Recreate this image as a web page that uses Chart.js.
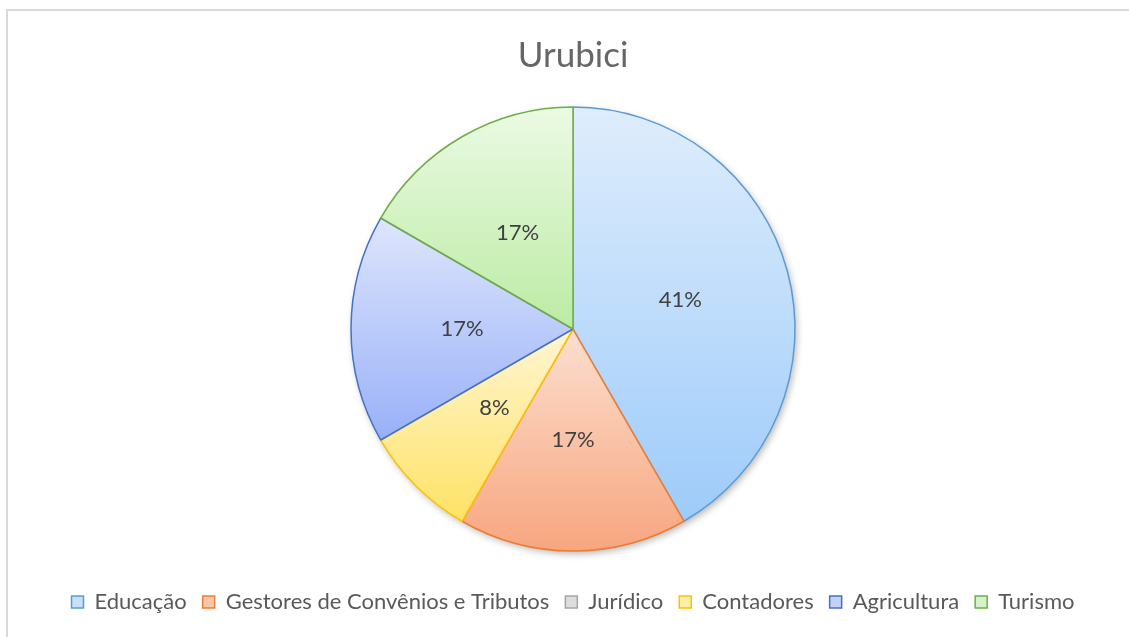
<!DOCTYPE html>
<html><head><meta charset="utf-8">
<script src="https://cdn.jsdelivr.net/npm/chart.js@4.4.1/dist/chart.umd.min.js"></script>
<style>
html,body{margin:0;padding:0;background:#fff;overflow:hidden;width:1129px;height:637px;}
#frame{position:absolute;left:6px;top:9px;border-left:2px solid #d9d9d9;border-top:2px solid #d9d9d9;width:1130px;height:626px;}
canvas{display:block}
</style></head><body>
<div id="frame"><canvas id="c" width="1130" height="626"></canvas></div>
<script>
const chartTitle = 'Urubici';
const categories = ['Educação','Gestores de Convênios e Tributos','Jurídico','Contadores','Agricultura','Turismo'];
const values = [5, 2, 0, 1, 2, 2];
const valueLabels = ['41%','17%','0%','8%','17%','17%'];
const borderColors = ['#5B9BD5','#ED7D31','#A5A5A5','#FFC000','#4472C4','#70AD47'];
const gradTop = ['#DFEDFC','#FCDFCF','#EDEDED','#FFF6D2','#DEE6FC','#EBFAE4'];
const gradBottom = ['#9DCBFA','#F7A67F','#C8C8C8','#FFE266','#98B0F8','#BCEBA4'];
const legendFill = ['#C6E0FB','#FAC6AA','#DCDCDC','#FFEFA6','#C2D0FA','#D6F3C8'];

const pieDecor = {
  id: 'pieDecor',
  beforeDatasetsDraw(chart) {
    const ctx = chart.ctx;
    const meta = chart.getDatasetMeta(0);
    if (!meta.data.length) return;
    const a0 = meta.data[0];
    ctx.save();
    ctx.beginPath();
    ctx.arc(a0.x, a0.y, a0.outerRadius, 0, Math.PI * 2);
    ctx.shadowColor = 'rgba(0,0,0,0.28)';
    ctx.shadowBlur = 7;
    ctx.shadowOffsetX = 2;
    ctx.shadowOffsetY = 3;
    ctx.fillStyle = '#ffffff';
    ctx.fill();
    ctx.restore();
    meta.data.forEach((arc, i) => {
      const R = arc.outerRadius, cx = arc.x, cy = arc.y;
      const s = arc.startAngle, e = arc.endAngle;
      let ys = [cy, cy + R * Math.sin(s), cy + R * Math.sin(e)];
      [-Math.PI / 2, Math.PI / 2, 3 * Math.PI / 2].forEach(k => { if (k >= s && k <= e) ys.push(cy + R * Math.sin(k)); });
      const minY = Math.min(...ys), maxY = Math.max(...ys);
      const g = ctx.createLinearGradient(0, minY, 0, Math.max(maxY, minY + 1));
      g.addColorStop(0, gradTop[i]);
      g.addColorStop(1, gradBottom[i]);
      arc.options = Object.assign({}, arc.options, { backgroundColor: g });
    });
  },
  afterDatasetsDraw(chart) {
    const ctx = chart.ctx;
    const meta = chart.getDatasetMeta(0);
    ctx.save();
    ctx.font = '22px Lato';
    ctx.fillStyle = '#404040';
    ctx.textAlign = 'center';
    ctx.textBaseline = 'middle';
    meta.data.forEach((arc, i) => {
      if (!values[i]) return;
      const mid = (arc.startAngle + arc.endAngle) / 2;
      const r = arc.outerRadius * 0.5;
      ctx.fillText(valueLabels[i], arc.x + r * Math.cos(mid), arc.y + r * Math.sin(mid));
    });
    ctx.restore();
  }
};

new Chart(document.getElementById('c'), {
  type: 'pie',
  data: {
    labels: categories,
    datasets: [{
      data: values,
      backgroundColor: legendFill,
      borderColor: borderColors,
      borderWidth: ctx => (values[ctx.dataIndex] ? 1.5 : 0),
      radius: 222
    }]
  },
  options: {
    responsive: false,
    animation: false,
    devicePixelRatio: 1,
    layout: { padding: { left: 0, right: 0, top: 0, bottom: 14 } },
    plugins: {
      tooltip: { enabled: false },
      title: {
        display: true,
        text: chartTitle,
        color: '#666666',
        font: { family: 'Lato', size: 35, weight: 'normal' },
        padding: { top: 24, bottom: 6 }
      },
      legend: {
        position: 'bottom',
        labels: {
          boxWidth: 12,
          boxHeight: 12,
          padding: 16,
          color: '#595959',
          font: { family: 'Lato', size: 22 },
          generateLabels: () => categories.map((c, i) => ({
            text: c,
            fillStyle: legendFill[i],
            strokeStyle: borderColors[i],
            lineWidth: 1.5,
            fontColor: '#595959',
            hidden: false,
            index: i
          }))
        }
      }
    }
  },
  plugins: [pieDecor]
});
</script>
</body></html>
